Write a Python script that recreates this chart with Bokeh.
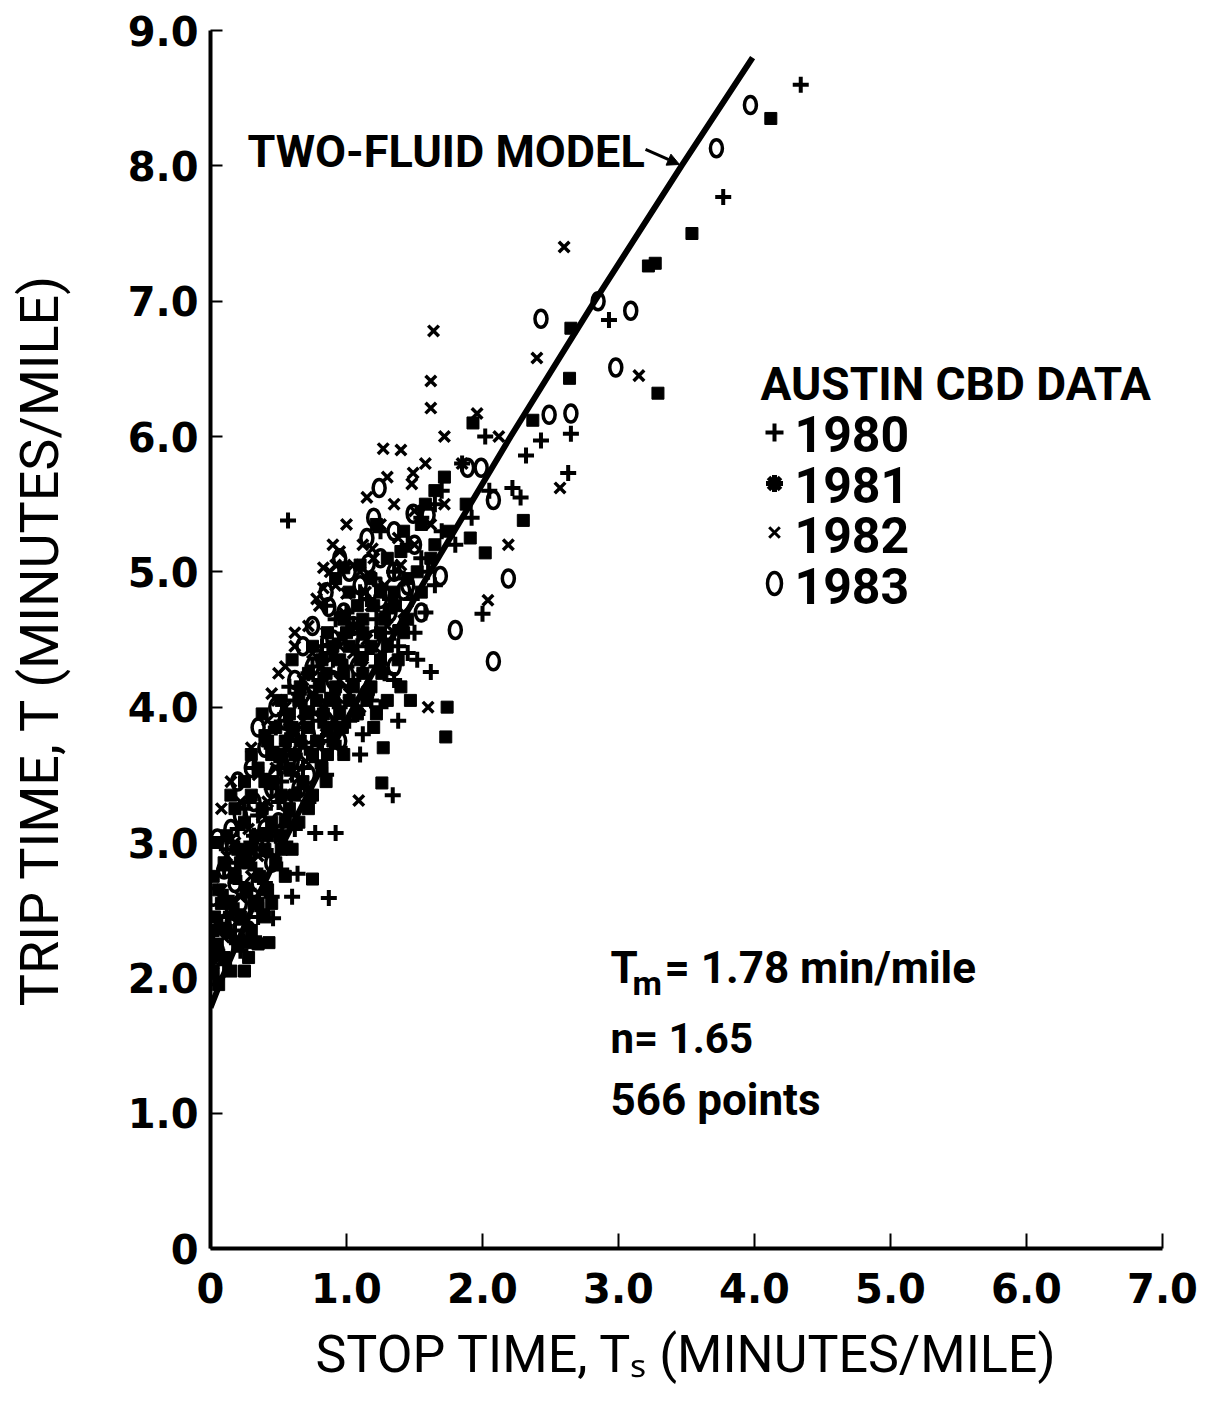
from bokeh.plotting import figure
from bokeh.models import Label, Arrow, NormalHead, FixedTicker, Range1d
from bokeh.embed import file_html
from bokeh.resources import INLINE

# ---------------- data ----------------
# (stop time Ts, trip time T) in minutes/mile
pts_1980 = [
    (4.34, 8.60), (3.77, 7.77), (2.93, 6.86), (2.65, 6.02), (2.63, 5.73), (2.43, 5.97),
    (2.32, 5.86), (2.28, 5.55), (2.22, 5.62), (2.00, 4.69), (0.57, 5.38), (0.77, 3.07),
    (0.92, 3.07), (0.87, 2.59), (0.60, 2.60), (0.64, 2.77), (0.16, 3.00), (0.15, 2.48),
    (0.46, 2.44), (1.34, 3.35), (1.38, 3.90), (1.62, 4.26),
    (0.03, 2.0), (0.10, 2.1), (0.05, 2.2), (0.22, 2.2), (0.15, 2.3), (0.32, 2.3),
    (0.08, 2.4), (0.25, 2.4), (0.20, 2.5), (0.38, 2.5), (0.12, 2.6), (0.30, 2.6),
    (0.45, 2.6), (0.22, 2.7), (0.40, 2.7), (0.10, 2.8), (0.33, 2.8), (0.52, 2.8),
    (0.25, 2.9), (0.45, 2.9), (0.30, 3.0), (0.55, 3.0), (0.20, 3.1), (0.42, 3.1),
    (0.62, 3.1), (0.35, 3.2), (0.58, 3.2), (0.28, 3.3), (0.50, 3.3), (0.72, 3.3),
    (0.45, 3.4), (0.66, 3.4), (0.38, 3.5), (0.60, 3.5), (0.85, 3.5), (0.52, 3.6),
    (0.78, 3.6), (0.45, 3.7), (0.70, 3.7), (0.95, 3.7), (0.60, 3.8), (0.88, 3.8),
    (1.12, 3.8), (0.55, 3.9), (0.80, 3.9), (1.02, 3.9), (0.70, 4.0), (0.95, 4.0),
    (1.25, 4.0), (0.65, 4.1), (0.90, 4.1), (1.15, 4.1), (0.80, 4.2), (1.05, 4.2),
    (1.35, 4.2), (0.75, 4.3), (1.00, 4.3), (1.22, 4.3), (0.88, 4.4), (1.15, 4.4),
    (1.45, 4.4), (0.95, 4.5), (1.28, 4.5), (1.05, 4.6), (1.40, 4.6), (1.00, 4.7),
    (1.30, 4.7), (1.58, 4.7), (1.15, 4.8), (1.48, 4.8), (1.25, 4.9), (1.65, 4.9),
    (1.35, 5.0), (1.60, 5.0), (1.45, 5.2), (1.80, 5.2), (1.55, 5.4), (1.92, 5.4),
    (1.70, 5.6), (2.05, 5.6), (1.85, 5.8), (2.02, 6.0),
    (0.08, 2.15), (0.18, 2.35), (0.28, 2.65), (0.15, 2.75), (0.38, 2.95), (0.48, 3.05),
    (0.25, 3.25), (0.52, 3.45), (0.32, 3.55), (0.68, 3.55), (0.58, 3.75), (0.82, 3.75),
    (0.48, 3.85), (0.75, 3.95), (1.08, 3.95), (0.62, 4.05), (0.85, 4.05), (1.18, 4.05),
    (0.72, 4.25), (0.95, 4.25), (1.28, 4.25), (0.82, 4.45), (1.08, 4.45), (0.92, 4.65),
    (1.22, 4.65), (1.10, 4.85), (1.42, 4.95), (1.55, 5.10), (1.25, 5.30), (1.65, 5.50),
    (1.38, 4.45), (1.52, 4.35),
    (0.02, 2.25), (0.12, 2.45), (0.35, 2.45), (0.20, 2.85), (0.40, 3.25), (0.62, 3.65),
    (0.68, 3.85), (0.92, 3.85), (0.78, 4.15), (1.02, 4.15), (0.58, 4.15), (0.90, 4.35),
    (1.12, 4.55), (0.85, 4.75), (1.35, 4.55), (1.20, 4.95), (1.50, 4.55), (0.50, 3.55),
    (0.32, 3.05), (0.12, 2.95), (0.55, 3.95), (1.10, 3.65), (1.32, 4.80), (1.70, 5.30),
]
pts_1981 = [
    (4.12, 8.35), (3.54, 7.50), (3.27, 7.28), (3.22, 7.26), (2.65, 6.80), (2.64, 6.43),
    (3.29, 6.32), (1.74, 4.00), (1.73, 3.78), (0.98, 5.03), (2.30, 5.38), (0.75, 2.73),
    (0.27, 2.26), (0.43, 2.26), (0.18, 2.77), (0.24, 2.94), (1.93, 6.10), (2.02, 5.14),
    (1.91, 5.25), (2.37, 6.12), (1.47, 4.05), (1.27, 3.70), (1.26, 3.44), (0.40, 3.79),
    (0.06, 1.95), (0.02, 2.05), (0.15, 2.05), (0.10, 2.15), (0.28, 2.15), (0.05, 2.25),
    (0.20, 2.25), (0.35, 2.25), (0.12, 2.35), (0.30, 2.35), (0.03, 2.45), (0.22, 2.45),
    (0.40, 2.45), (0.15, 2.55), (0.32, 2.55), (0.06, 2.65), (0.26, 2.65), (0.42, 2.65),
    (0.18, 2.75), (0.36, 2.75), (0.55, 2.75), (0.10, 2.85), (0.28, 2.85), (0.48, 2.85),
    (0.20, 2.95), (0.40, 2.95), (0.60, 2.95), (0.12, 3.05), (0.33, 3.05), (0.52, 3.05),
    (0.25, 3.15), (0.45, 3.15), (0.65, 3.15), (0.18, 3.25), (0.38, 3.25), (0.58, 3.25),
    (0.30, 3.35), (0.52, 3.35), (0.75, 3.35), (0.25, 3.45), (0.46, 3.45), (0.68, 3.45),
    (0.35, 3.55), (0.58, 3.55), (0.82, 3.55), (0.30, 3.65), (0.52, 3.65), (0.75, 3.65),
    (0.98, 3.65), (0.42, 3.75), (0.66, 3.75), (0.90, 3.75), (0.48, 3.85), (0.72, 3.85),
    (0.97, 3.85), (1.20, 3.85), (0.58, 3.95), (0.83, 3.95), (1.08, 3.95), (0.52, 4.05),
    (0.78, 4.05), (1.02, 4.05), (1.30, 4.05), (0.66, 4.15), (0.92, 4.15), (1.18, 4.15),
    (0.72, 4.25), (0.98, 4.25), (1.26, 4.25), (0.82, 4.35), (1.10, 4.35), (1.38, 4.35),
    (0.90, 4.45), (1.18, 4.45), (0.86, 4.55), (1.12, 4.55), (1.42, 4.55), (0.98, 4.65),
    (1.28, 4.65), (1.08, 4.75), (1.36, 4.75), (1.02, 4.85), (1.25, 4.85), (1.55, 4.85),
    (1.18, 4.95), (1.45, 4.95), (1.30, 5.10), (1.62, 5.10), (1.42, 5.30), (1.75, 5.30),
    (1.58, 5.50), (1.88, 5.50), (1.72, 5.70),
    (0.02, 2.35), (0.08, 2.55), (0.35, 2.55), (0.22, 2.85), (0.05, 3.00), (0.42, 3.05),
    (0.62, 3.35), (0.40, 3.45), (0.45, 3.65), (0.62, 3.65), (0.86, 3.65), (0.55, 3.75),
    (0.78, 3.75), (0.60, 3.85), (0.86, 3.85), (0.70, 3.95), (0.95, 3.95), (0.65, 4.05),
    (0.90, 4.05), (1.15, 4.05), (0.80, 4.15), (1.05, 4.15), (0.85, 4.25), (1.12, 4.25),
    (0.95, 4.35), (1.25, 4.35), (1.02, 4.45), (1.30, 4.45), (1.00, 4.55), (1.25, 4.55),
    (1.12, 4.65), (1.20, 4.75), (1.35, 4.85), (1.52, 5.00), (1.65, 5.20),
    (0.00, 2.15), (0.25, 2.05), (0.45, 2.55), (0.02, 2.75), (0.30, 2.95), (0.52, 2.95),
    (0.15, 3.35), (0.55, 3.15), (0.72, 3.25), (0.85, 3.45), (0.38, 3.95), (1.22, 3.95),
    (1.40, 4.15), (0.60, 4.35), (0.75, 4.45), (1.45, 4.65), (0.92, 4.95), (1.10, 5.05),
    (1.40, 5.15), (1.55, 5.35), (1.22, 5.35), (1.65, 5.60),
]
pts_1982 = [
    (2.60, 7.40), (1.64, 6.78), (1.62, 6.41), (1.62, 6.21), (1.27, 5.91), (2.40, 6.58),
    (3.15, 6.45), (1.49, 5.73), (0.83, 5.03), (0.83, 4.88), (1.00, 4.84), (1.14, 4.85),
    (2.57, 5.62), (2.19, 5.20), (2.04, 4.79), (1.19, 5.17), (1.60, 4.00), (1.09, 3.31),
    (0.49, 4.05), (2.12, 6.00), (1.96, 6.17),
    (0.05, 1.98), (0.10, 2.30), (0.22, 2.60), (0.12, 2.90), (0.35, 2.90), (0.28, 3.10),
    (0.48, 3.10), (0.22, 3.30), (0.42, 3.30), (0.35, 3.50), (0.62, 3.50), (0.30, 3.70),
    (0.55, 3.70), (0.80, 3.70), (0.42, 3.90), (0.68, 3.90), (0.92, 3.90), (0.45, 4.10),
    (0.75, 4.10), (1.02, 4.10), (0.55, 4.30), (0.82, 4.30), (1.12, 4.30), (0.62, 4.45),
    (0.95, 4.45), (0.72, 4.60), (1.05, 4.60), (1.30, 4.60), (0.80, 4.75), (1.18, 4.75),
    (0.92, 4.90), (1.28, 4.90), (1.05, 5.05), (1.40, 5.05), (1.12, 5.20), (1.50, 5.20),
    (1.25, 5.35), (1.62, 5.35), (1.35, 5.50), (1.72, 5.50), (1.48, 5.65), (1.58, 5.80),
    (1.85, 5.80), (1.72, 6.00),
    (0.15, 2.45), (0.30, 2.75), (0.18, 3.00), (0.38, 3.20), (0.55, 3.35), (0.48, 3.55),
    (0.70, 3.60), (0.62, 3.80), (0.85, 3.80), (0.55, 4.00), (0.82, 4.00), (1.10, 4.00),
    (0.68, 4.20), (0.95, 4.20), (0.75, 4.40), (1.05, 4.40), (0.85, 4.55), (1.15, 4.50),
    (0.98, 4.70), (1.10, 5.00), (1.20, 5.10), (1.38, 5.25), (1.50, 5.45), (0.95, 5.15),
    (0.02, 2.10), (0.08, 2.65), (0.25, 2.95), (0.08, 3.25), (0.15, 3.45), (0.58, 3.90),
    (0.50, 4.25), (0.62, 4.55), (0.78, 4.80), (0.88, 5.00), (0.90, 5.20), (1.00, 5.35),
    (1.15, 5.55), (1.30, 5.70), (1.40, 5.90), (0.92, 5.05), (1.25, 4.40), (1.42, 4.70),
]
pts_1983 = [
    (3.97, 8.45), (3.72, 8.13), (2.43, 6.87), (3.09, 6.93), (2.98, 6.51), (2.85, 7.00),
    (2.49, 6.16), (2.65, 6.17), (1.24, 5.62), (1.16, 5.06), (2.19, 4.95), (1.80, 4.57),
    (2.08, 4.34), (0.05, 3.03), (1.99, 5.77), (1.89, 5.77), (1.49, 5.43), (1.60, 5.42),
    (2.08, 5.53), (1.35, 5.30), (1.42, 4.86), (1.69, 4.97), (0.87, 4.74),
    (0.10, 2.40), (0.18, 2.70), (0.35, 2.70), (0.28, 2.90), (0.15, 3.10), (0.40, 3.10),
    (0.32, 3.30), (0.55, 3.30), (0.48, 3.50), (0.72, 3.50), (0.40, 3.70), (0.62, 3.70),
    (0.55, 3.90), (0.85, 3.90), (0.68, 4.10), (0.98, 4.10), (0.75, 4.30), (1.08, 4.30),
    (0.90, 4.50), (1.20, 4.50), (0.98, 4.70), (1.32, 4.70), (1.10, 4.90), (1.45, 4.90),
    (1.25, 5.10),
    (0.05, 2.20), (0.22, 2.55), (0.10, 2.80), (0.45, 2.85), (0.22, 3.20), (0.45, 3.40),
    (0.60, 3.60), (0.30, 3.55), (0.72, 3.80), (0.48, 4.00), (0.80, 4.00), (0.62, 4.20),
    (0.90, 4.20), (0.85, 4.40), (1.12, 4.45), (1.05, 4.60), (1.25, 4.80), (1.02, 5.00),
    (1.35, 5.00), (1.50, 5.20), (1.15, 5.25),
    (0.02, 2.60), (0.28, 2.35), (0.38, 3.00), (0.50, 3.15), (0.65, 3.40), (0.20, 3.45),
    (0.35, 3.85), (0.95, 3.75), (1.15, 4.10), (0.68, 4.45), (0.75, 4.60), (0.85, 4.85),
    (0.95, 5.10), (1.20, 5.40), (1.35, 4.30), (1.55, 4.70),
]

# two-fluid model curve (Tm = 1.78, n = 1.65), points along the drawn line
model_stop_time = [0.0, 0.086, 0.301, 0.537, 0.788, 1.053, 1.329, 1.614, 2.207, 2.825, 3.463, 3.986]
model_trip_time = [1.78, 2.0, 2.5, 3.0, 3.5, 4.0, 4.5, 5.0, 6.0, 7.0, 8.0, 8.8]

x_ticks = [0, 1, 2, 3, 4, 5, 6, 7]
x_tick_labels = ["0", "1.0", "2.0", "3.0", "4.0", "5.0", "6.0", "7.0"]
y_ticks = [0, 1, 2, 3, 4, 5, 6, 7, 8, 9]
y_tick_labels = ["0", "1.0", "2.0", "3.0", "4.0", "5.0", "6.0", "7.0", "8.0", "9.0"]

legend_years = ["1980", "1981", "1982", "1983"]
legend_title = "AUSTIN CBD DATA"
x_title = "STOP TIME, T\u209b (MINUTES/MILE)"
y_title = "TRIP TIME, T (MINUTES/MILE)"

# ---------------- figure ----------------
FONT = "Roboto"
NUMFONT = "DejaVu Sans"

p = figure(width=1205, height=1403, x_range=Range1d(0, 7), y_range=Range1d(0, 9),
           output_backend="svg", toolbar_location=None,
           min_border_left=210, min_border_right=43, min_border_top=30, min_border_bottom=155)
p.outline_line_color = None
p.grid.visible = False
p.background_fill_color = "white"
p.border_fill_color = "white"

for ax, ticks, labels, tin, stand in ((p.xaxis, x_ticks, x_tick_labels, 15, 24),
                                      (p.yaxis, y_ticks, y_tick_labels, 12, 12)):
    ax.ticker = FixedTicker(ticks=ticks)
    ax.major_label_overrides = {t: l for t, l in zip(ticks, labels)}
    ax.axis_line_width = 4
    ax.axis_line_color = "black"
    ax.major_tick_line_width = 2
    ax.major_tick_line_color = "black"
    ax.major_tick_in = tin
    ax.major_tick_out = 0
    ax.minor_tick_line_color = None
    ax.major_label_text_font = NUMFONT
    ax.major_label_text_font_style = "bold"
    ax.major_label_text_font_size = "40px"
    ax.major_label_text_color = "black"
    ax.major_label_standoff = stand
    ax.axis_label_text_font = FONT
    ax.axis_label_text_font_style = "normal"
    ax.axis_label_text_color = "black"

p.xaxis.axis_label = x_title
p.xaxis.axis_label_text_font_size = "52px"
p.xaxis.axis_label_standoff = 18
p.yaxis.axis_label = y_title
p.yaxis.axis_label_text_font_size = "54px"
p.yaxis.axis_label_standoff = 54

def unzip(pts):
    return [a for a, b in pts], [b for a, b in pts]

x80, y80 = unzip(pts_1980)
x81, y81 = unzip(pts_1981)
x82, y82 = unzip(pts_1982)
x83, y83 = unzip(pts_1983)

p.scatter(x81, y81, marker="square", size=12, fill_color="black", line_color="black")
p.scatter(x80, y80, marker="cross", size=16, line_width=4, line_color="black")
p.scatter(x82, y82, marker="x", size=15, line_width=3.5, line_color="black")
p.ellipse(x83, y83, width=12, height=17, width_units="screen", height_units="screen",
          fill_color=None, line_color="black", line_width=3.5)

p.line(model_stop_time, model_trip_time, line_width=6, line_color="black")

# ---- annotations ----
def px2x(px):
    return (px - 210) / 136.0

def py2y(py):
    return (1248 - py) / 135.333

def lab(px, py, text, size, bold=True, align="left", baseline="alphabetic", font=FONT):
    p.add_layout(Label(x=px2x(px), y=py2y(py), text=text, text_font=font,
                       text_font_size=size, text_font_style="bold" if bold else "normal",
                       text_align=align, text_baseline=baseline, text_color="black"))

lab(247, 151, "TWO-FLUID MODEL", "45px")
p.add_layout(Arrow(x_start=px2x(645), y_start=py2y(149), x_end=px2x(679), y_end=py2y(164),
                   line_width=3, line_color="black",
                   end=NormalHead(size=12, fill_color="black", line_color="black")))

# legend block
lab(760, 384, legend_title, "46px")
row_base = [434, 485, 535, 586]
row_mid = [432, 483, 532, 583]
for yr, b in zip(legend_years, row_base):
    lab(794, b, yr, "50px")
lx = [px2x(774)] * 4
ly = [py2y(m) for m in row_mid]
p.scatter([lx[0]], [ly[0]], marker="cross", size=18, line_width=4, line_color="black")
p.scatter([lx[1]], [ly[1]], marker="asterisk", size=17, line_width=5, line_color="black")
p.scatter([lx[2]], [ly[2]], marker="x", size=15, line_width=3, line_color="black")
p.ellipse([lx[3]], [ly[3]], width=14, height=22, width_units="screen", height_units="screen",
          fill_color=None, line_color="black", line_width=3.5)

# parameter text
lab(610, 968, "T", "44px")
lab(632, 983, "m", "34px")
lab(664, 968, "= 1.78 min/mile", "44px")
lab(610, 1038, "n= 1.65", "42px")
lab(610, 1100, "566 points", "44px")

open("out.html", "w").write(file_html(p, INLINE))
